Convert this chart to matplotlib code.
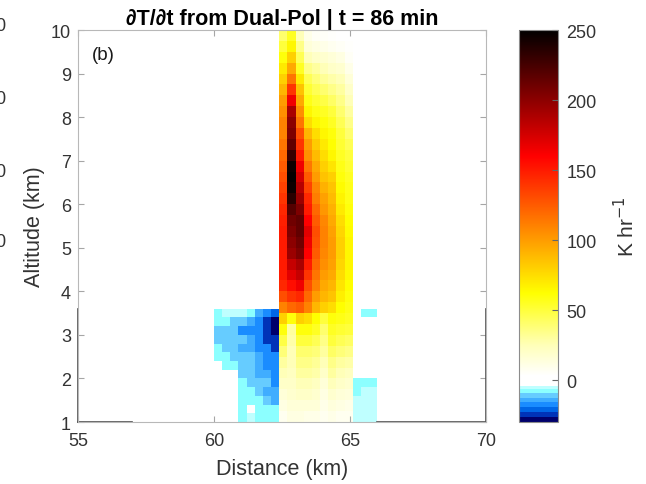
"""dT/dt heating rate cross-section (panel b), dual-pol retrieval at t = 86 min."""
import numpy as np
import matplotlib
matplotlib.use("Agg")
import matplotlib.pyplot as plt
from matplotlib.colors import LinearSegmentedColormap, Normalize

plt.rcParams["font.family"] = ["Liberation Sans", "DejaVu Sans"]

VMIN, VMAX = -30, 250
NAN = np.nan

# warm updraft column: 9 columns (62.4-65.1 km, 0.3 km wide), rows 1-10 km every 0.25 km (bottom -> top)
HOT_X = [62.4, 62.7, 63.0, 63.3, 63.6, 63.9, 64.2, 64.5, 64.8, 65.1]
HOT_Y = [1.0 + 0.25 * k for k in range(37)]
c0 = [8, 12, 15, 20, 25, 30, 38, 48, 60, 80, 110, 130, 145, 150, 150, 150, 150, 150,
      148, 145, 140, 135, 130, 125, 120, 115, 110, 110, 105, 100, 90, 80, 70, 60, 50, 40]
c1 = [12, 15, 18, 20, 22, 25, 25, 28, 30, 60, 120, 140, 155, 170, 180, 195, 200, 205,
      210, 220, 235, 245, 248, 245, 230, 215, 205, 200, 190, 165, 140, 115, 95, 80, 65, 55]
c2 = [12, 15, 20, 25, 30, 35, 40, 50, 60, 80, 125, 145, 165, 180, 190, 205, 210, 215,
      215, 205, 195, 185, 175, 165, 150, 140, 130, 115, 105, 95, 85, 70, 55, 45, 35, 25]
c3 = [10, 15, 20, 25, 30, 35, 40, 50, 60, 75, 110, 120, 130, 140, 150, 160, 165, 170,
      160, 150, 145, 135, 125, 115, 105, 100, 90, 75, 65, 58, 52, 45, 35, 25, 15, 10]
c4 = [10, 15, 18, 22, 28, 32, 38, 45, 55, 62, 90, 100, 110, 115, 120, 125, 128, 130,
      125, 120, 112, 108, 100, 95, 88, 82, 75, 65, 58, 52, 45, 38, 30, 20, 12, 6]
c5 = [8, 10, 12, 15, 20, 25, 30, 35, 40, 50, 80, 90, 95, 100, 105, 108, 110, 110,
      108, 102, 98, 92, 85, 80, 75, 70, 65, 60, 55, 48, 40, 32, 25, 18, 10, 5]
c6 = [10, 14, 18, 24, 30, 35, 42, 50, 55, 60, 75, 85, 90, 95, 98, 100, 100, 98,
      95, 92, 88, 85, 80, 72, 65, 62, 60, 55, 50, 42, 35, 28, 20, 15, 8, 4]
c7 = [8, 12, 15, 20, 25, 30, 38, 45, 52, 58, 62, 68, 72, 75, 78, 80, 80, 78,
      75, 70, 66, 63, 60, 58, 55, 52, 50, 45, 40, 35, 30, 25, 18, 12, 6, 3]
c8 = [8, 10, 14, 18, 22, 28, 35, 42, 50, 55, 58, 60, 62, 64, 65, 65, 65, 63,
      62, 60, 58, 57, 55, 52, 50, 45, 40, 35, 30, 25, 20, 15, 10, 6, 4, 2]

# cooling region west of the column: 8 columns (60.0-62.4 km), rows 1.0-3.6 km every 0.2 km (bottom -> top)
COLD_X = [60.0, 60.3, 60.6, 60.9, 61.2, 61.5, 61.8, 62.1, 62.4]
COLD_Y = [1.0 + 0.2 * k for k in range(14)]
cold = [
    [NAN, NAN, NAN, -8, -6, -8, -8, -8],
    [NAN, NAN, NAN, -8, NAN, -8, -8, -8],
    [NAN, NAN, NAN, -8, -8, -8, -11, -14],
    [NAN, NAN, NAN, -8, -8, -11, -14, -14],
    [NAN, NAN, NAN, -8, -11, -11, -11, -18],
    [NAN, NAN, NAN, -11, -11, -14, -14, -18],
    [NAN, -8, -8, -11, -11, -14, -18, -18],
    [-8, -8, -11, -11, -11, -14, -18, -18],
    [-8, -11, -11, -14, -14, -18, -18, -24],
    [-11, -11, -11, -11, -14, -18, -24, -24],
    [-11, -11, -11, -18, -18, -18, -24, -29],
    [-8, -8, -11, -11, -14, -18, -24, -29],
    [-8, -6, -6, -6, -8, -14, -18, -22],
]

# weak cooling east of the column: 3 columns (65.1-66.0 km), same rows as the west side
EAST_X = [65.1, 65.4, 65.7, 66.0]
east = [
    [-6, -6, -6],
    [-6, -6, -6],
    [-6, -6, -6],
    [-8, -6, -6],
    [-8, -7, -7],
    [NAN, NAN, NAN],
    [NAN, NAN, NAN],
    [NAN, NAN, NAN],
    [NAN, NAN, NAN],
    [NAN, NAN, NAN],
    [NAN, NAN, NAN],
    [NAN, NAN, NAN],
    [NAN, -7, -7],
]

CB_TICKS = [0, 50, 100, 150, 200, 250]

# colormap: stepped blues below zero, white -> yellow -> red -> black above
BLUE_EDGES = [-30, -26.5, -23, -19.5, -16, -12.5, -9.5, -7, -4.5, 0]
BLUE_COLORS = [(0.0, 0.0, 0.42), (0.0, 0.2, 0.72), (0.0, 0.4, 0.9), (0.1, 0.55, 1.0),
               (0.25, 0.68, 1.0), (0.4, 0.8, 1.0), (0.55, 1.0, 1.0), (0.75, 1.0, 1.0),
               (1.0, 1.0, 1.0)]
WARM_STOPS = [(0, (1, 1, 1)), (3, (1, 1, 1)), (25, (1, 1, 0.72)), (62, (1, 1, 0)),
              (160, (1, 0, 0)), (200, (0.55, 0, 0)), (250, (0, 0, 0))]


def build_cmap():
    span = VMAX - VMIN
    stops = []
    for lo, hi, col in zip(BLUE_EDGES[:-1], BLUE_EDGES[1:], BLUE_COLORS):
        stops.append(((lo - VMIN) / span + 1e-6, col))
        stops.append(((hi - VMIN) / span - 1e-6, col))
    stops[0] = (0.0, stops[0][1])
    for v, col in WARM_STOPS[1:]:
        stops.append(((v - VMIN) / span, col))
    return LinearSegmentedColormap.from_list("heat", stops, N=1024)


def main():
    cmap = build_cmap()
    norm = Normalize(VMIN, VMAX)

    fig = plt.figure(figsize=(6.46, 4.85), dpi=100)
    ax = fig.add_axes([0.1207, 0.1278, 0.6316, 0.8082])
    cax = fig.add_axes([0.8034, 0.1278, 0.0604, 0.8082])

    hot = np.array([c0, c1, c2, c3, c4, c5, c6, c7, c8]).T
    ax.pcolormesh(COLD_X, COLD_Y, np.array(cold), cmap=cmap, norm=norm)
    ax.pcolormesh(EAST_X, COLD_Y, np.array(east), cmap=cmap, norm=norm)
    mesh = ax.pcolormesh(HOT_X, HOT_Y, hot, cmap=cmap, norm=norm)

    ax.set_xlim(55, 70)
    ax.set_ylim(1, 10)
    ax.set_xticks([55, 60, 65, 70])
    ax.set_yticks(range(1, 11))
    ax.tick_params(direction="in", length=4, labelsize=13, colors="0.65",
                   labelcolor="0.2", top=True, right=True, pad=5)
    ax.tick_params(axis="x", pad=7)
    for sp in ax.spines.values():
        sp.set_color("0.72")
    # darker frame pieces along the lower part of the box
    ax.plot([55, 55], [1, 3.6], color="0.3", lw=1.2, clip_on=False)
    ax.plot([70, 70], [1, 3.6], color="0.3", lw=1.2, clip_on=False)
    ax.plot([55, 57], [1, 1], color="0.3", lw=1.2, clip_on=False)
    ax.plot([66, 70], [1, 1], color="0.3", lw=1.2, clip_on=False)

    ax.set_xlabel("Distance (km)", fontsize=15.5, color="0.2", labelpad=7)
    ax.set_ylabel("Altitude (km)", fontsize=15.5, color="0.2", labelpad=4)
    ax.set_title("\u2202T/\u2202t from Dual-Pol | t = 86 min", fontsize=15.5,
                 fontweight="bold", pad=4)
    ax.text(0.035, 0.96, "(b)", transform=ax.transAxes, fontsize=13.5, va="top", color="0.1")

    cb = fig.colorbar(mesh, cax=cax, ticks=CB_TICKS)
    cb.outline.set_edgecolor("0.55")
    cb.ax.tick_params(direction="in", length=4, labelsize=13, colors="0.4",
                      labelcolor="0.2", pad=6)
    cb.set_label("K hr$^{-1}$", fontsize=15, color="0.2", labelpad=12)

    # clipped labels of the neighbouring panel at the left edge
    for yf in [0.945, 0.795, 0.645, 0.500]:
        fig.text(0.009, yf, "0", ha="right", va="center", fontsize=13, color="0.2")

    fig.savefig("out.png", dpi=100)
    plt.close(fig)


if __name__ == "__main__":
    main()
